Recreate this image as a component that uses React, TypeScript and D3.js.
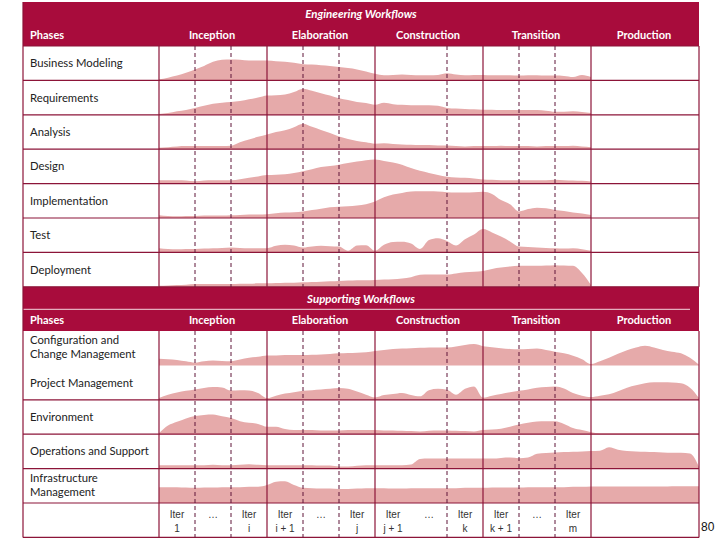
import * as d3 from "d3";
import React, { useEffect, useRef } from "react";

const phases = ["Inception", "Elaboration", "Construction", "Transition", "Production"];

const engineeringWorkflows = [
  ["Business Modeling"],
  ["Requirements"],
  ["Analysis"],
  ["Design"],
  ["Implementation"],
  ["Test"],
  ["Deployment"],
];

const supportingWorkflows = [
  ["Configuration and", "Change Management"],
  ["Project Management"],
  ["Environment"],
  ["Operations and Support"],
  ["Infrastructure", "Management"],
];

// effort, % of row height, sampled every 1/12 of a phase
const businessModeling = [3, 8, 14, 22, 32, 42, 54, 60, 61, 60, 58, 58, 58, 56, 54, 51, 47, 46, 44, 42, 39, 36, 32, 26, 19, 15, 16, 17, 16, 15, 15, 16, 21, 17, 15, 16, 16, 15, 15, 15, 14, 15, 15, 14, 14, 13, 10, 16, 10];
const requirements = [2, 5, 10, 14, 20, 26, 32, 35, 37, 40, 45, 50, 56, 57, 59, 66, 76, 70, 63, 56, 48, 43, 37, 34, 29, 35, 31, 29, 28, 28, 28, 26, 20, 18, 17, 16, 15, 15, 14, 14, 14, 14, 14, 12, 9, 9, 10, 8, 5];
const analysis = [4, 6, 8, 9, 9, 9, 9, 9, 10, 20, 28, 36, 43, 50, 55, 64, 74, 65, 56, 47, 37, 30, 24, 20, 16, 17, 15, 14, 13, 12, 12, 11, 11, 9, 8, 9, 9, 9, 10, 9, 9, 9, 8, 9, 9, 9, 10, 8, 6];
const design = [10, 10, 10, 9, 7, 9, 10, 10, 10, 13, 17, 21, 25, 26, 27, 31, 36, 42, 48, 51, 55, 60, 64, 68, 70, 66, 61, 55, 45, 37, 31, 25, 20, 18, 17, 15, 12, 11, 10, 10, 10, 10, 10, 10, 11, 10, 9, 8, 6];
const implementation = [8, 6, 5, 6, 6, 7, 7, 7, 8, 9, 10, 10, 11, 14, 16, 17, 19, 23, 27, 31, 33, 34, 36, 40, 48, 60, 68, 73, 77, 78, 78, 77, 75, 74, 74, 75, 76, 70, 52, 40, 19, 26, 30, 28, 23, 20, 16, 13, 9];
const test = [12, 10, 9, 10, 10, 11, 12, 13, 14, 13, 12, 12, 12, 19, 22, 20, 14, 17, 19, 18, 17, 5, 20, 21, 5, 22, 30, 31, 26, 10, 36, 41, 33, 20, 38, 52, 68, 58, 46, 32, 17, 16, 14, 13, 12, 11, 12, 9, 5];
const deployment = [3, 4, 5, 6, 8, 8, 8, 8, 8, 9, 9, 10, 10, 11, 12, 12, 13, 14, 15, 16, 17, 18, 19, 19, 20, 21, 22, 24, 28, 35, 36, 36, 36, 39, 42, 44, 46, 52, 56, 59, 61, 61, 61, 62, 63, 62, 61, 40, 5];

const configChange = [19, 18, 16, 12, 8, 12, 14, 13, 12, 17, 22, 25, 29, 29, 30, 30, 30, 31, 32, 33, 35, 36, 37, 38, 42, 45, 48, 49, 50, 51, 52, 52, 52, 55, 59, 62, 56, 53, 50, 48, 47, 48, 49, 45, 40, 35, 28, 18, 4, 12, 22, 34, 44, 52, 57, 52, 45, 40, 35, 22, 2];
const projectManagement = [5, 15, 21, 26, 30, 34, 37, 36, 27, 28, 27, 20, 5, 12, 18, 22, 26, 28, 30, 32, 34, 32, 24, 15, 7, 14, 17, 20, 14, 10, 28, 32, 29, 15, 32, 39, 6, 12, 17, 22, 26, 30, 35, 37, 39, 33, 20, 12, 8, 12, 16, 25, 35, 42, 48, 51, 51, 50, 48, 35, 5];
const environment = [3, 25, 36, 46, 53, 56, 57, 52, 47, 38, 33, 30, 22, 22, 15, 12, 12, 12, 11, 11, 11, 12, 12, 12, 12, 11, 11, 10, 9, 8, 10, 11, 11, 10, 9, 8, 12, 14, 16, 22, 28, 33, 37, 38, 38, 30, 18, 12, 6, 3, 3, 3, 3, 3, 3, 3, 3, 3, 3, 3, 3];
const operationsSupport = [10, 10, 10, 10, 10, 10, 11, 10, 10, 11, 13, 11, 10, 10, 10, 10, 10, 10, 9, 9, 6, 6, 8, 10, 10, 10, 10, 10, 12, 28, 29, 29, 29, 29, 29, 29, 29, 29, 31, 32, 30, 32, 43, 45, 47, 48, 49, 50, 51, 52, 62, 55, 51, 50, 49, 48, 47, 46, 46, 44, 5];
const infrastructure = [46, 46, 46, 45, 44, 45, 45, 46, 46, 46, 47, 47, 52, 62, 63, 52, 44, 43, 42, 42, 41, 41, 42, 43, 43, 43, 42, 42, 43, 43, 43, 43, 43, 43, 44, 44, 44, 45, 45, 45, 45, 46, 46, 46, 46, 46, 47, 47, 48, 48, 48, 48, 48, 48, 48, 48, 48, 49, 49, 49, 49];

const engineeringSeries = [businessModeling, requirements, analysis, design, implementation, test, deployment];
const supportingSeries = [configChange, projectManagement, environment, operationsSupport, infrastructure];

// iteration cells, in sample steps (12 per phase)
const iterCells = [
  { from: 0, to: 4, lines: ["Iter", "1"] },
  { from: 4, to: 8, lines: ["…"] },
  { from: 8, to: 12, lines: ["Iter", "i"] },
  { from: 12, to: 16, lines: ["Iter", "i + 1"] },
  { from: 16, to: 20, lines: ["…"] },
  { from: 20, to: 24, lines: ["Iter", "j"] },
  { from: 24, to: 28, lines: ["Iter", "j + 1"] },
  { from: 28, to: 32, lines: ["…"] },
  { from: 32, to: 36, lines: ["Iter", "k"] },
  { from: 36, to: 40, lines: ["Iter", "k + 1"] },
  { from: 40, to: 44, lines: ["…"] },
  { from: 44, to: 48, lines: ["Iter", "m"] },
];
const dashedSteps = [4, 8, 16, 20, 32, 40, 44];
const phaseSteps = [0, 12, 24, 36, 48, 60];

const RED = "#a80c3c";
const LINE = "#8c1438";
const DASH = "#5e1538";
const FILL = "#e6aaaa";

export default function App() {
  const ref = useRef(null);

  useEffect(() => {
    const svg = d3.select(ref.current);
    svg.selectAll("*").remove();

    const left = 23;
    const right = 699;
    const rowH = 34.4;
    const engTop = 46;
    const supTop = 331;
    const bottom = supTop + 6 * rowH;

    const x = d3.scaleLinear().domain([0, 60]).range([159, right]);
    const phaseX = d3.scaleLinear().domain([0, 5]).range([159, right]);

    // header bands
    const headers = [
      { top: 2, title: "Engineering Workflows", rule: false },
      { top: engTop + 7 * rowH, title: "Supporting Workflows", rule: true },
    ];
    headers.forEach((h) => {
      const bandBottom = h.top === 2 ? engTop : supTop;
      svg.append("rect")
        .attr("x", left).attr("y", h.top)
        .attr("width", right - left).attr("height", bandBottom - h.top)
        .attr("fill", RED);
      svg.append("text")
        .attr("x", 361).attr("y", h.top + 16)
        .attr("text-anchor", "middle")
        .attr("font-family", "Lato").attr("font-size", 11.5)
        .attr("font-style", "italic").attr("font-weight", "bold")
        .attr("fill", "#fff")
        .text(h.title);
      if (h.rule) {
        svg.append("line")
          .attr("x1", left).attr("x2", 690)
          .attr("y1", h.top + 22.5).attr("y2", h.top + 22.5)
          .attr("stroke", "#f3d6de").attr("stroke-width", 1);
      }
      const midY = bandBottom - 11;
      svg.append("text")
        .attr("x", 30).attr("y", midY + 4)
        .attr("font-family", "Lato").attr("font-size", 11).attr("font-weight", "bold")
        .attr("fill", "#fff")
        .text("Phases");
      svg.selectAll(null).data(phases).enter().append("text")
        .attr("x", (d, i) => phaseX(i + 0.5) - 1)
        .attr("y", midY + 4)
        .attr("text-anchor", "middle")
        .attr("font-family", "Lato").attr("font-size", 11).attr("font-weight", "bold")
        .attr("fill", "#fff")
        .text((d) => d);
    });

    // effort humps
    const drawRows = (series, top) => {
      series.forEach((vals, r) => {
        const rb = top + (r + 1) * rowH;
        const y = d3.scaleLinear().domain([0, 100]).range([rb, rb - rowH]);
        const area = d3.area()
          .x((d, i) => x(i))
          .y0(rb)
          .y1((d) => y(d))
          .curve(d3.curveMonotoneX);
        svg.append("path").datum(vals).attr("d", area).attr("fill", FILL);
      });
    };
    drawRows(engineeringSeries, engTop);
    drawRows(supportingSeries, supTop);

    // row labels
    const drawLabels = (labels, top) => {
      labels.forEach((lines, r) => {
        const cy = top + r * rowH + rowH / 2;
        const t = svg.append("text")
          .attr("font-family", "Lato").attr("font-size", 11.3)
          .attr("fill", "#222");
        lines.forEach((ln, j) => {
          t.append("tspan")
            .attr("x", 30)
            .attr("y", cy + 4 + (j - (lines.length - 1) / 2) * 14 - (lines.length > 1 ? 1 : 0))
            .text(ln);
        });
      });
    };
    drawLabels(engineeringWorkflows, engTop);
    drawLabels(supportingWorkflows, supTop);

    // iteration labels
    const iterTop = supTop + 5 * rowH;
    iterCells.forEach((c) => {
      const cx = x((c.from + c.to) / 2);
      const t = svg.append("text")
        .attr("text-anchor", "middle")
        .attr("font-family", "Liberation Sans").attr("font-size", 10)
        .attr("fill", "#333");
      c.lines.forEach((ln, j) => {
        t.append("tspan").attr("x", cx).attr("y", iterTop + 15 + j * 14).text(ln);
      });
    });

    // horizontal row lines
    const hLines = [];
    for (let r = 0; r <= 7; r++) hLines.push(engTop + r * rowH);
    [2, 3, 4, 5, 6].forEach((r) => hLines.push(supTop + r * rowH));
    svg.selectAll(null).data(hLines).enter().append("line")
      .attr("x1", left).attr("x2", right)
      .attr("y1", (d) => d).attr("y2", (d) => d)
      .attr("stroke", LINE).attr("stroke-width", 1.2);

    // vertical lines
    const spans = [[engTop, engTop + 7 * rowH], [supTop, bottom]];
    spans.forEach(([y1, y2]) => {
      svg.selectAll(null).data(phaseSteps).enter().append("line")
        .attr("x1", (d) => x(d)).attr("x2", (d) => x(d))
        .attr("y1", y1).attr("y2", y2)
        .attr("stroke", LINE).attr("stroke-width", 1.2);
      svg.selectAll(null).data(dashedSteps).enter().append("line")
        .attr("x1", (d) => x(d)).attr("x2", (d) => x(d))
        .attr("y1", y1).attr("y2", y2)
        .attr("stroke", DASH).attr("stroke-width", 1)
        .attr("stroke-dasharray", "4,3");
    });
    svg.append("line")
      .attr("x1", left).attr("x2", left).attr("y1", 2).attr("y2", bottom)
      .attr("stroke", LINE).attr("stroke-width", 1.2);

    svg.append("text")
      .attr("x", 701).attr("y", 531)
      .attr("font-family", "Liberation Sans").attr("font-size", 12)
      .attr("fill", "#111")
      .text("80");
  }, []);

  return (
    <svg
      ref={ref}
      width={720}
      height={540}
      style={{ position: "absolute", left: 0, top: 0, background: "#fff" }}
    />
  );
}
